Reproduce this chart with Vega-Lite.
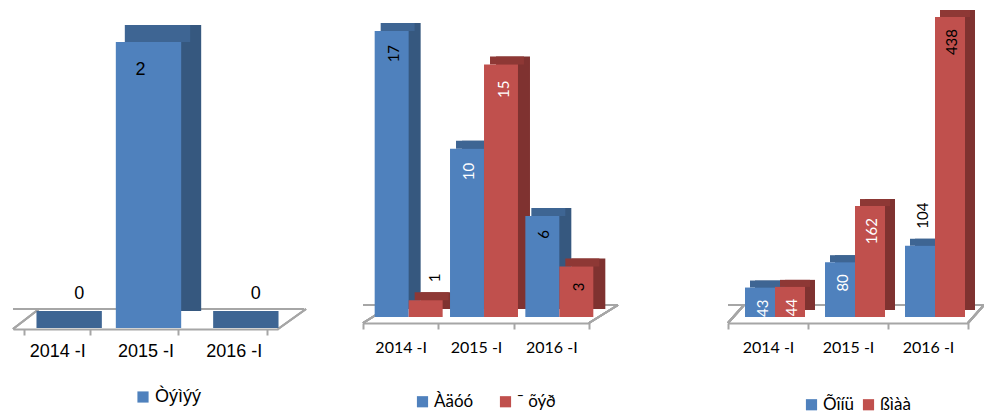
{
  "$schema": "https://vega.github.io/schema/vega-lite/v6.json",
  "padding": {"left": 11, "top": 10, "right": 0, "bottom": 0},
  "background": "white",
  "config": {"view": {"stroke": null}, "legend": {"padding": 0}},
  "datasets": {
    "a": [
      {"year": "2014 -I", "series": "Òýìýý", "value": 0},
      {"year": "2015 -I", "series": "Òýìýý", "value": 2},
      {"year": "2016 -I", "series": "Òýìýý", "value": 0}
    ],
    "b": [
      {"year": "2014 -I", "series": "Àäóó", "value": 17},
      {"year": "2015 -I", "series": "Àäóó", "value": 10},
      {"year": "2016 -I", "series": "Àäóó", "value": 6},
      {"year": "2014 -I", "series": "¯ õýð", "value": 1},
      {"year": "2015 -I", "series": "¯ õýð", "value": 15},
      {"year": "2016 -I", "series": "¯ õýð", "value": 3}
    ],
    "c": [
      {"year": "2014 -I", "series": "Õîíü", "value": 43},
      {"year": "2015 -I", "series": "Õîíü", "value": 80},
      {"year": "2016 -I", "series": "Õîíü", "value": 104},
      {"year": "2014 -I", "series": "ßìàà", "value": 44},
      {"year": "2015 -I", "series": "ßìàà", "value": 162},
      {"year": "2016 -I", "series": "ßìàà", "value": 438}
    ]
  },
  "bounds": "flush",
  "spacing": 85,
  "resolve": {"scale": {"color": "independent"}, "legend": {"color": "independent"}},
  "hconcat": [
    {
      "data": {"name": "a"},
      "width": 265,
      "height": 311,
      "encoding": {
        "x": {"field": "year", "type": "nominal", "sort": null,
          "scale": {"domain": ["2014 -I", "2015 -I", "2016 -I"], "paddingInner": 0.26, "paddingOuter": 0.13},
          "axis": {"title": null, "labelAngle": 0, "tickBand": "extent", "domainColor": "#a6a6a6", "domainWidth": 2, "tickColor": "#a6a6a6", "tickWidth": 2, "tickSize": 6, "offset": 1, "labelFont": "Liberation Sans", "labelFontSize": 18, "labelColor": "#000000", "labelPadding": 7}},
        "y": {"field": "value", "type": "quantitative", "scale": {"domain": [0, 2.175], "nice": false}, "axis": null}
      },
      "layer": [
        {"mark": {"type": "rule", "color": "#a6a6a6", "strokeWidth": 2, "yOffset": -19, "xOffset": 26}, "encoding": {"y": {"datum": 0}, "x": null}},
        {"mark": {"type": "rule", "color": "#a6a6a6", "strokeWidth": 2, "x2Offset": 26, "yOffset": 1, "y2Offset": -19},
          "encoding": {"x": {"datum": "2014 -I", "bandPosition": -0.1757}, "x2": {"datum": "2014 -I", "bandPosition": -0.1757}, "y": {"datum": 0}, "y2": {"datum": 0}}},
        {"mark": {"type": "rule", "color": "#a6a6a6", "strokeWidth": 2, "x2Offset": 28, "yOffset": 1, "y2Offset": -19},
          "encoding": {"x": {"datum": "2016 -I", "bandPosition": 1.1757}, "x2": {"datum": "2016 -I", "bandPosition": 1.1757}, "y": {"datum": 0}, "y2": {"datum": 0}}},
        {"mark": {"type": "bar", "width": {"band": 1}, "xOffset": 23, "yOffset": -17, "y2Offset": -17, "color": "#36587f"}, "encoding": {"y2": {"datum": 0}}},
        {"mark": {"type": "bar", "width": {"band": 1}, "xOffset": 12, "yOffset": -17, "color": "#3e6593"}, "encoding": {"y2": {"field": "value"}}},
        {"mark": {"type": "bar", "width": {"band": 1}, "xOffset": 3},
          "encoding": {"y2": {"datum": 0}, "color": {"field": "series", "type": "nominal", "scale": {"range": ["#4f81bd"]},
            "legend": {"title": null, "orient": "none", "legendX": 121, "legendY": 371, "symbolType": "square", "symbolSize": 125, "symbolStrokeWidth": 0, "labelFont": "Liberation Sans", "labelFontSize": 18, "labelColor": "#000000", "labelOffset": 3}}}},
        {"transform": [{"filter": "datum.value > 0"}],
          "mark": {"type": "text", "xOffset": -5, "dy": 28, "font": "Liberation Sans", "fontSize": 18, "color": "#000000", "baseline": "middle"},
          "encoding": {"text": {"field": "value"}}},
        {"transform": [{"filter": "datum.value == 0"}],
          "mark": {"type": "text", "xOffset": 22, "dy": -34, "font": "Liberation Sans", "fontSize": 18, "color": "#000000", "baseline": "middle"},
          "encoding": {"text": {"field": "value"}}}
      ]
    },
    {
      "bounds": "flush",
      "spacing": 139,
      "resolve": {"scale": {"color": "independent"}, "legend": {"color": "independent"}},
      "hconcat": [
        {
          "data": {"name": "b"},
          "width": 226,
          "height": 300,
          "encoding": {
            "x": {"field": "year", "type": "nominal", "sort": null,
              "scale": {"domain": ["2014 -I", "2015 -I", "2016 -I"], "paddingInner": 0, "paddingOuter": 0},
              "axis": {"title": null, "labelAngle": 0, "tickBand": "extent", "domainColor": "#a6a6a6", "domainWidth": 2, "tickColor": "#a6a6a6", "tickWidth": 2, "tickSize": 6, "offset": 6, "labelFont": "Lato", "labelFontSize": 16, "labelColor": "#000000", "labelPadding": 10}},
            "y": {"field": "value", "type": "quantitative", "scale": {"domain": [0, 17.83], "nice": false}, "axis": null}
          },
          "layer": [
            {"mark": {"type": "rule", "color": "#a6a6a6", "strokeWidth": 2, "yOffset": -12, "xOffset": 29}, "encoding": {"y": {"datum": 0}, "x": null}},
            {"mark": {"type": "rule", "color": "#a6a6a6", "strokeWidth": 2, "x2Offset": 29, "yOffset": 6, "y2Offset": -12},
              "encoding": {"x": {"datum": "2014 -I", "bandPosition": 0}, "x2": {"datum": "2014 -I", "bandPosition": 0}, "y": {"datum": 0}, "y2": {"datum": 0}}},
            {"mark": {"type": "rule", "color": "#a6a6a6", "strokeWidth": 2, "x2Offset": 29, "yOffset": 6, "y2Offset": -12},
              "encoding": {"x": {"datum": "2016 -I", "bandPosition": 1}, "x2": {"datum": "2016 -I", "bandPosition": 1}, "y": {"datum": 0}, "y2": {"datum": 0}}},
            {"transform": [{"filter": "datum.series == 'Àäóó'"}],
              "mark": {"type": "bar", "width": {"band": 0.451}, "xOffset": 3, "yOffset": -8, "y2Offset": -8, "color": "#36587f"}, "encoding": {"y2": {"datum": 0}}},
            {"transform": [{"filter": "datum.series == 'Àäóó'"}],
              "mark": {"type": "bar", "width": {"band": 0.451}, "xOffset": -3, "yOffset": -8, "color": "#3e6593"}, "encoding": {"y2": {"field": "value"}}},
            {"transform": [{"filter": "datum.series == '¯ õýð'"}],
              "mark": {"type": "bar", "width": {"band": 0.451}, "xOffset": 37, "yOffset": -8, "y2Offset": -8, "color": "#7f3230"}, "encoding": {"y2": {"datum": 0}}},
            {"transform": [{"filter": "datum.series == '¯ õýð'"}],
              "mark": {"type": "bar", "width": {"band": 0.451}, "xOffset": 31, "yOffset": -8, "color": "#8e3835"}, "encoding": {"y2": {"field": "value"}}},
            {"transform": [{"filter": "datum.series == 'Àäóó'"}],
              "mark": {"type": "bar", "width": {"band": 0.451}, "xOffset": -9},
              "encoding": {"y2": {"datum": 0}, "color": {"field": "series", "type": "nominal", "sort": null, "scale": {"domain": ["Àäóó", "¯ õýð"], "range": ["#4f81bd", "#c0504d"]},
                "legend": {"title": null, "orient": "none", "direction": "horizontal", "legendX": 51, "legendY": 376, "symbolType": "square", "symbolSize": 125, "symbolStrokeWidth": 0, "labelFont": "Lato", "labelFontSize": 17, "labelColor": "#000000", "labelOffset": 3, "columnPadding": 23}}}},
            {"transform": [{"filter": "datum.series == '¯ õýð'"}],
              "mark": {"type": "bar", "width": {"band": 0.451}, "xOffset": 25},
              "encoding": {"y2": {"datum": 0}, "color": {"field": "series", "type": "nominal", "sort": null}}},
            {"transform": [{"filter": "datum.series == 'Àäóó'"}],
              "mark": {"type": "text", "xOffset": -7, "angle": 270, "align": "right", "baseline": "middle", "dx": -14, "font": "Lato", "fontSize": 15},
              "encoding": {"text": {"field": "value"}, "color": {"condition": {"test": "datum.value == 10", "value": "#ffffff"}, "value": "#000000"}}},
            {"transform": [{"filter": "datum.series == '¯ õýð' && datum.value != 1"}],
              "mark": {"type": "text", "xOffset": 28, "angle": 270, "align": "right", "baseline": "middle", "dx": -16, "font": "Lato", "fontSize": 15},
              "encoding": {"text": {"field": "value"}, "color": {"condition": {"test": "datum.value == 15", "value": "#ffffff"}, "value": "#000000"}}},
            {"transform": [{"filter": "datum.series == '¯ õýð' && datum.value == 1"}],
              "mark": {"type": "text", "xOffset": 34, "angle": 270, "align": "left", "baseline": "middle", "dx": 18, "font": "Lato", "fontSize": 15, "color": "#000000"},
              "encoding": {"text": {"field": "value"}}}
          ]
        },
        {
          "data": {"name": "c"},
          "width": 240,
          "height": 300,
          "encoding": {
            "x": {"field": "year", "type": "nominal", "sort": null,
              "scale": {"domain": ["2014 -I", "2015 -I", "2016 -I"], "paddingInner": 0, "paddingOuter": 0},
              "axis": {"title": null, "labelAngle": 0, "tickBand": "extent", "domainColor": "#a6a6a6", "domainWidth": 2, "tickColor": "#a6a6a6", "tickWidth": 2, "tickSize": 6, "offset": 6, "labelFont": "Lato", "labelFontSize": 16, "labelColor": "#000000", "labelPadding": 10}},
            "y": {"field": "value", "type": "quantitative", "scale": {"domain": [0, 438], "nice": false}, "axis": null}
          },
          "layer": [
            {"mark": {"type": "rule", "color": "#a6a6a6", "strokeWidth": 2, "yOffset": -12, "xOffset": 16}, "encoding": {"y": {"datum": 0}, "x": null}},
            {"mark": {"type": "rule", "color": "#a6a6a6", "strokeWidth": 2, "x2Offset": 16, "yOffset": 6, "y2Offset": -12},
              "encoding": {"x": {"datum": "2014 -I", "bandPosition": 0}, "x2": {"datum": "2014 -I", "bandPosition": 0}, "y": {"datum": 0}, "y2": {"datum": 0}}},
            {"mark": {"type": "rule", "color": "#a6a6a6", "strokeWidth": 2, "x2Offset": 16, "yOffset": 6, "y2Offset": -12},
              "encoding": {"x": {"datum": "2016 -I", "bandPosition": 1}, "x2": {"datum": "2016 -I", "bandPosition": 1}, "y": {"datum": 0}, "y2": {"datum": 0}}},
            {"transform": [{"filter": "datum.series == 'Õîíü'"}],
              "mark": {"type": "bar", "width": {"band": 0.375}, "xOffset": 2, "yOffset": -7, "y2Offset": -7, "color": "#36587f"}, "encoding": {"y2": {"datum": 0}}},
            {"transform": [{"filter": "datum.series == 'Õîíü'"}],
              "mark": {"type": "bar", "width": {"band": 0.375}, "xOffset": -3, "yOffset": -7, "color": "#3e6593"}, "encoding": {"y2": {"field": "value"}}},
            {"transform": [{"filter": "datum.series == 'ßìàà'"}],
              "mark": {"type": "bar", "width": {"band": 0.375}, "xOffset": 32, "yOffset": -7, "y2Offset": -7, "color": "#7f3230"}, "encoding": {"y2": {"datum": 0}}},
            {"transform": [{"filter": "datum.series == 'ßìàà'"}],
              "mark": {"type": "bar", "width": {"band": 0.375}, "xOffset": 27, "yOffset": -7, "color": "#8e3835"}, "encoding": {"y2": {"field": "value"}}},
            {"transform": [{"filter": "datum.series == 'Õîíü'"}],
              "mark": {"type": "bar", "width": {"band": 0.375}, "xOffset": -8},
              "encoding": {"y2": {"datum": 0}, "color": {"field": "series", "type": "nominal", "sort": null, "scale": {"domain": ["Õîíü", "ßìàà"], "range": ["#4f81bd", "#c0504d"]},
                "legend": {"title": null, "orient": "none", "direction": "horizontal", "legendX": 75, "legendY": 379, "symbolType": "square", "symbolSize": 125, "symbolStrokeWidth": 0, "labelFont": "Lato", "labelFontSize": 17, "labelColor": "#000000", "labelOffset": 3, "columnPadding": 5}}}},
            {"transform": [{"filter": "datum.series == 'ßìàà'"}],
              "mark": {"type": "bar", "width": {"band": 0.375}, "xOffset": 22},
              "encoding": {"y2": {"datum": 0}, "color": {"field": "series", "type": "nominal", "sort": null}}},
            {"transform": [{"filter": "datum.series == 'Õîíü' && datum.value != 104"}],
              "mark": {"type": "text", "xOffset": -5, "angle": 270, "align": "right", "baseline": "middle", "dx": -12, "font": "Lato", "fontSize": 15, "color": "#ffffff"},
              "encoding": {"text": {"field": "value"}}},
            {"transform": [{"filter": "datum.series == 'Õîíü' && datum.value == 104"}],
              "mark": {"type": "text", "xOffset": -5, "angle": 270, "align": "left", "baseline": "middle", "dx": 17, "font": "Lato", "fontSize": 15, "color": "#000000"},
              "encoding": {"text": {"field": "value"}}},
            {"transform": [{"filter": "datum.series == 'ßìàà'"}],
              "mark": {"type": "text", "xOffset": 24, "angle": 270, "align": "right", "baseline": "middle", "dx": -12, "font": "Lato", "fontSize": 15},
              "encoding": {"text": {"field": "value"}, "color": {"condition": {"test": "datum.value == 438", "value": "#000000"}, "value": "#ffffff"}}}
          ]
        }
      ]
    }
  ]
}
